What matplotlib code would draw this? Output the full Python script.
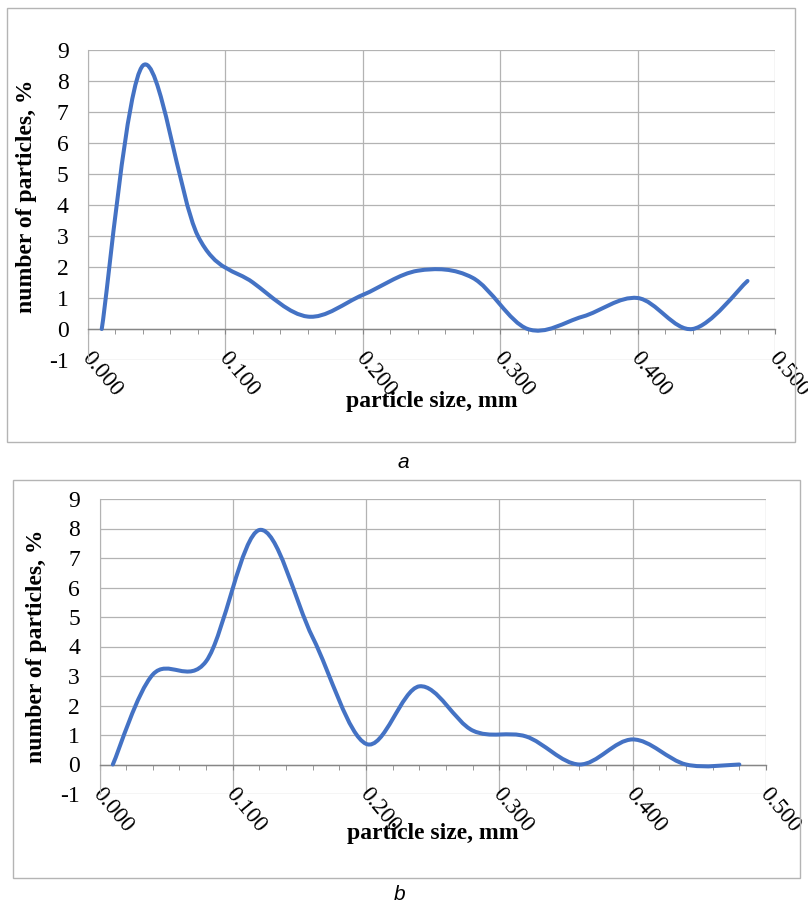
import numpy as np
import matplotlib
matplotlib.use('Agg')
import matplotlib.pyplot as plt
import matplotlib.transforms as mtransforms
from matplotlib.path import Path
from matplotlib.patches import PathPatch, Rectangle

# particle size, mm (same sieve points in both panels)
size_a = [0.01, 0.04, 0.08, 0.12, 0.16, 0.20, 0.24, 0.28, 0.32, 0.36, 0.40, 0.44, 0.48]
count_a = [0, 8.5, 3.0, 1.5, 0.4, 1.1, 1.88, 1.65, 0.0, 0.4, 1.0, 0.0, 1.55]

size_b = [0.01, 0.04, 0.08, 0.12, 0.16, 0.20, 0.24, 0.28, 0.32, 0.36, 0.40, 0.44, 0.48]
count_b = [0, 3.05, 3.5, 7.95, 4.3, 0.7, 2.65, 1.15, 0.95, 0.0, 0.85, 0.0, 0.0]

x_ticks = [0.0, 0.1, 0.2, 0.3, 0.4, 0.5]
x_labels = ['0.000', '0.100', '0.200', '0.300', '0.400', '0.500']
y_ticks = list(range(-1, 10))
y_labels = [str(v) for v in y_ticks]

W, H = 808, 915
SERIF = 'Liberation Serif'
LINE = '#4472C4'
GRID = '#b3b3b3'
AXIS = '#868686'


#smoothed line like the spreadsheet one: bezier through every point
def smooth_path(xs, ys):
    pts = np.column_stack([xs, ys]).astype(float)
    n = len(pts)
    verts = [pts[0]]
    codes = [Path.MOVETO]
    for i in range(n - 1):
        p_prev = pts[i - 1] if i > 0 else pts[i]
        p_next2 = pts[i + 2] if i + 2 < n else pts[i + 1]
        c1 = pts[i] + (pts[i + 1] - p_prev) / 6
        c2 = pts[i + 1] - (p_next2 - pts[i]) / 6
        verts += [c1, c2, pts[i + 1]]
        codes += [Path.CURVE4] * 3
    return Path(verts, codes)


def frac(left, top, right, bottom):
    return [left / W, 1 - bottom / H, (right - left) / W, (bottom - top) / H]


def panel(fig, box, rect, xs, ys, ylab_xy, xlab_y, caption, cap_xy):
    x0, y0, x1, y1 = box
    fig.add_artist(Rectangle((x0 / W, 1 - y1 / H), (x1 - x0) / W, (y1 - y0) / H,
                             transform=fig.transFigure, fill=False,
                             ec='#b4b4b4', lw=1.0))
    ax = fig.add_axes(frac(*rect))
    ax.set_xlim(0, 0.5)
    ax.set_ylim(-1, 9)
    for s in ['top', 'right']:
        ax.spines[s].set_visible(False)
    ax.spines['left'].set_color(GRID)
    ax.spines['bottom'].set_position(('data', 0))
    ax.spines['bottom'].set_color(AXIS)
    ax.spines['bottom'].set_linewidth(1.0)

    ax.set_yticks(y_ticks)
    ax.set_yticklabels(y_labels, fontfamily=SERIF, fontsize=17)
    ax.tick_params(axis='y', length=0, pad=14)

    ax.set_xticks(x_ticks)
    ax.set_xticks(np.arange(0, 0.5001, 0.02), minor=True)
    ax.set_xticklabels(x_labels, fontfamily=SERIF, fontsize=16.5, rotation=-50,
                       ha='left', va='center', rotation_mode='anchor')
    ax.tick_params(axis='x', which='both', direction='out', length=3.6,
                   color=AXIS, pad=15)
    shift = mtransforms.ScaledTranslation(-3 / 100, 0, fig.dpi_scale_trans)
    for lab in ax.get_xticklabels():
        lab.set_transform(lab.get_transform() + shift)

    ax.grid(True, which='major', color=GRID, lw=0.9)
    ax.set_axisbelow(True)

    ax.add_patch(PathPatch(smooth_path(xs, ys), fill=False, ec=LINE, lw=2.9,
                           capstyle='round', joinstyle='round', zorder=3))

    fig.text(ylab_xy[0] / W, 1 - ylab_xy[1] / H,
             'number of particles, %', rotation=90, ha='center', va='center',
             fontfamily=SERIF, fontweight='bold', fontsize=17)
    fig.text((rect[0] + rect[2]) / 2 / W, 1 - xlab_y / H, 'particle size, mm',
             ha='center', va='center', fontfamily=SERIF, fontweight='bold',
             fontsize=17)
    fig.text(cap_xy[0] / W, 1 - cap_xy[1] / H, caption, ha='center',
             va='center', fontfamily='Liberation Sans', fontstyle='italic',
             fontsize=15)
    return ax


fig = plt.figure(figsize=(W / 100, H / 100), dpi=100)

panel(fig, (7, 8, 795, 442), (88, 50, 775, 360), size_a, count_a,
      (27, 196), 401, 'a', (403, 462))
panel(fig, (13, 480, 800, 878), (99.5, 499, 766, 794), size_b, count_b,
      (37, 646), 833, 'b', (400, 894))

fig.savefig('out.png', dpi=100)
